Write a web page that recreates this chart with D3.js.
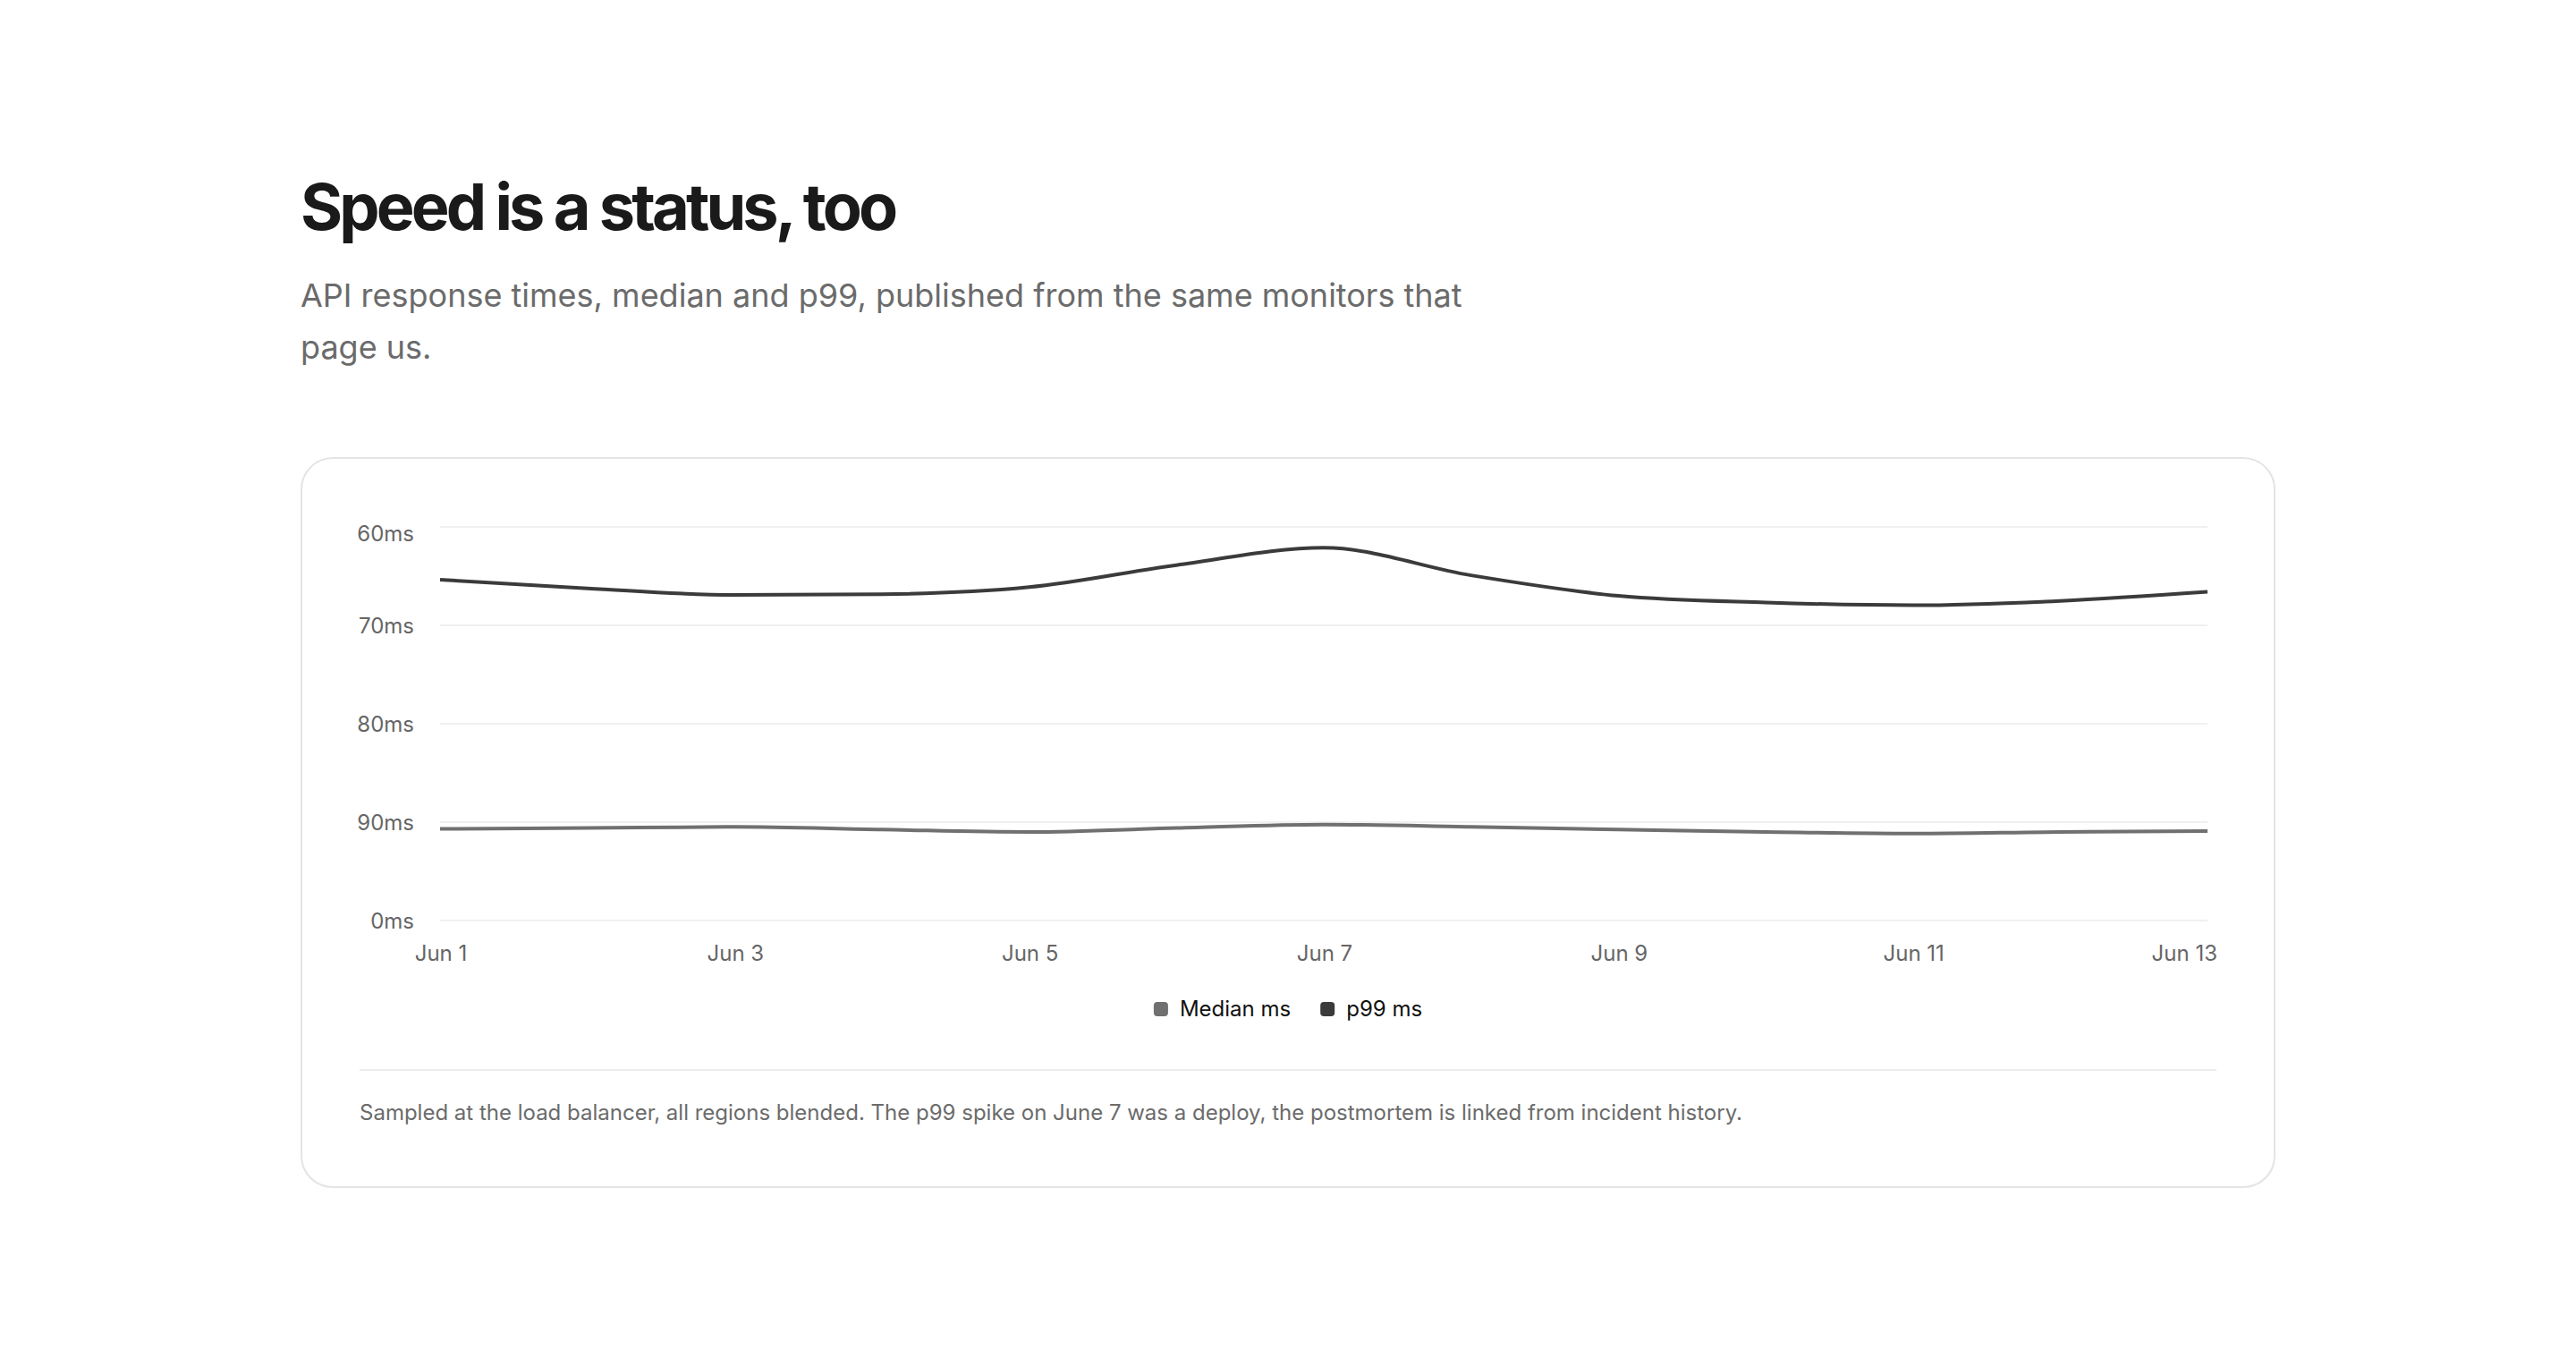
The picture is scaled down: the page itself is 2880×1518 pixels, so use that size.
<!DOCTYPE html>
<html>
<head>
<meta charset="utf-8">
<script src="https://cdn.jsdelivr.net/npm/d3@7"></script>
<style>
  html, body { margin: 0; background: #fff; }
  body { font-family: Inter, "Noto Sans", sans-serif; color: #1a1a1a; }
  .wrap { max-width: 1200px; margin: 0 auto; padding: 95.5px 48px 0; box-sizing: border-box; }
  h1 { margin: 0; font-size: 36px; line-height: 1.1; font-weight: 700; letter-spacing: -0.054em; color: #1a1a1a; }
  .sub { margin: 16px 0 0; max-width: 680px; font-size: 18px; line-height: 1.6; color: #6b6b6b; }
  .card { margin-top: 47px; border: 1px solid #e4e4e4; border-radius: 18px; padding: 33px 32px 32px; }
  #chart svg { display: block; overflow: visible; }
  .note { border-top: 1px solid #ececec; padding-top: 14.5px; font-size: 12px; line-height: 1.5; color: #6b6b6b; }
</style>
</head>
<body>
<div class="wrap">
  <h1>Speed is a status, too</h1>
  <p class="sub">API response times, median and p99, published from the same monitors that page us.</p>
  <div class="card">
    <div id="chart"></div>
    <div class="note">Sampled at the load balancer, all regions blended. The p99 spike on June 7 was a deploy, the postmortem is linked from incident history.</div>
  </div>
</div>
<script>
// page was laid out for a 1440px wide viewport
var k = window.innerWidth / 1440;
if (Math.abs(k - 1) > 0.01) document.documentElement.style.zoom = k;

var days = ["Jun 1", "Jun 2", "Jun 3", "Jun 4", "Jun 5", "Jun 6", "Jun 7",
            "Jun 8", "Jun 9", "Jun 10", "Jun 11", "Jun 12", "Jun 13"];
var medianMs = [23.3, 23.5, 23.8, 23.1, 22.5, 23.5, 24.4, 23.8, 23.1, 22.5, 22.1, 22.5, 22.7];
var p99Ms = [86.6, 84.4, 82.7, 82.9, 84.7, 90.3, 94.7, 87.7, 82.5, 80.8, 80.1, 81.2, 83.5];
var yTicks = [0, 25, 50, 75, 100];
var yTickLabels = ["0ms", "90ms", "80ms", "70ms", "60ms"];
var xTickDays = ["Jun 1", "Jun 3", "Jun 5", "Jun 7", "Jun 9", "Jun 11", "Jun 13"];
var seriesNames = ["Median ms", "p99 ms"];
var seriesColors = ["#707070", "#3b3b3b"];

const margin = { top: 5, right: 5, bottom: 0, left: 45 },
    fullWidth = document.getElementById("chart").clientWidth,
    fullHeight = 308,
    width = fullWidth - margin.left - margin.right,
    height = 220;

var x = d3.scalePoint()
    .domain(days)
    .range([0, width]);

var y = d3.scaleLinear()
    .domain([0, 100])
    .range([height, 0]);

var svg = d3.select("#chart")
    .append("svg")
    .attr("width", fullWidth)
    .attr("height", fullHeight);

var g = svg.append("g")
    .attr("transform", "translate(" + margin.left + "," + margin.top + ")");

// grid
g.append("g")
    .selectAll("line")
    .data(yTicks)
    .enter()
    .append("line")
    .attr("x1", 0)
    .attr("x2", width)
    .attr("y1", d => y(d))
    .attr("y2", d => y(d))
    .attr("stroke", "#f0f0f0")
    .attr("stroke-width", 1);

// y axis, top label is pushed down so it stays inside the svg
var yAxis = g.append("g")
    .call(d3.axisLeft(y)
        .tickValues(yTicks)
        .tickSize(0)
        .tickPadding(14.5)
        .tickFormat((d, i) => yTickLabels[i]));
yAxis.select(".domain").remove();
yAxis.selectAll("text")
    .attr("dy", d => d === 100 ? "0.63em" : "0.33em")
    .attr("fill", "#666")
    .style("font-family", "Inter, sans-serif")
    .style("font-size", "12px");

// x axis
var xAxis = g.append("g")
    .attr("transform", "translate(0," + height + ")")
    .call(d3.axisBottom(x)
        .tickValues(xTickDays)
        .tickSize(0)
        .tickPadding(14));
xAxis.select(".domain").remove();
xAxis.selectAll("text")
    .attr("fill", "#666")
    .style("font-family", "Inter, sans-serif")
    .style("font-size", "12px")
    .attr("text-anchor", d => d === "Jun 13" ? "end" : "middle")
    .attr("dx", d => d === "Jun 13" ? margin.right + "px" : 0);

var line = d3.line()
    .x((d, i) => x(days[i]))
    .y(d => y(d))
    .curve(d3.curveMonotoneX);

[medianMs, p99Ms].forEach(function(vals, i) {
    g.append("path")
        .datum(vals)
        .attr("fill", "none")
        .attr("stroke", seriesColors[i])
        .attr("stroke-width", 2)
        .attr("d", line);
});

// legend
var legend = svg.append("g")
    .attr("transform", "translate(0,270.5)");

var items = legend.selectAll("g")
    .data(seriesNames)
    .enter()
    .append("g");

items.append("rect")
    .attr("width", 8)
    .attr("height", 8)
    .attr("rx", 2)
    .attr("fill", (d, i) => seriesColors[i]);

items.append("text")
    .attr("x", 14.5)
    .attr("y", 8)
    .attr("fill", "#111")
    .style("font-family", "Inter, sans-serif")
    .style("font-size", "12px")
    .text(d => d);

var offs = [], total = 0;
items.each(function() {
    offs.push(total);
    total += this.getBBox().width + 16.5;
});
total -= 16.5;
var start = fullWidth / 2 - total / 2;
items.attr("transform", (d, i) => "translate(" + (start + offs[i]) + ",0)");
</script>
</body>
</html>
